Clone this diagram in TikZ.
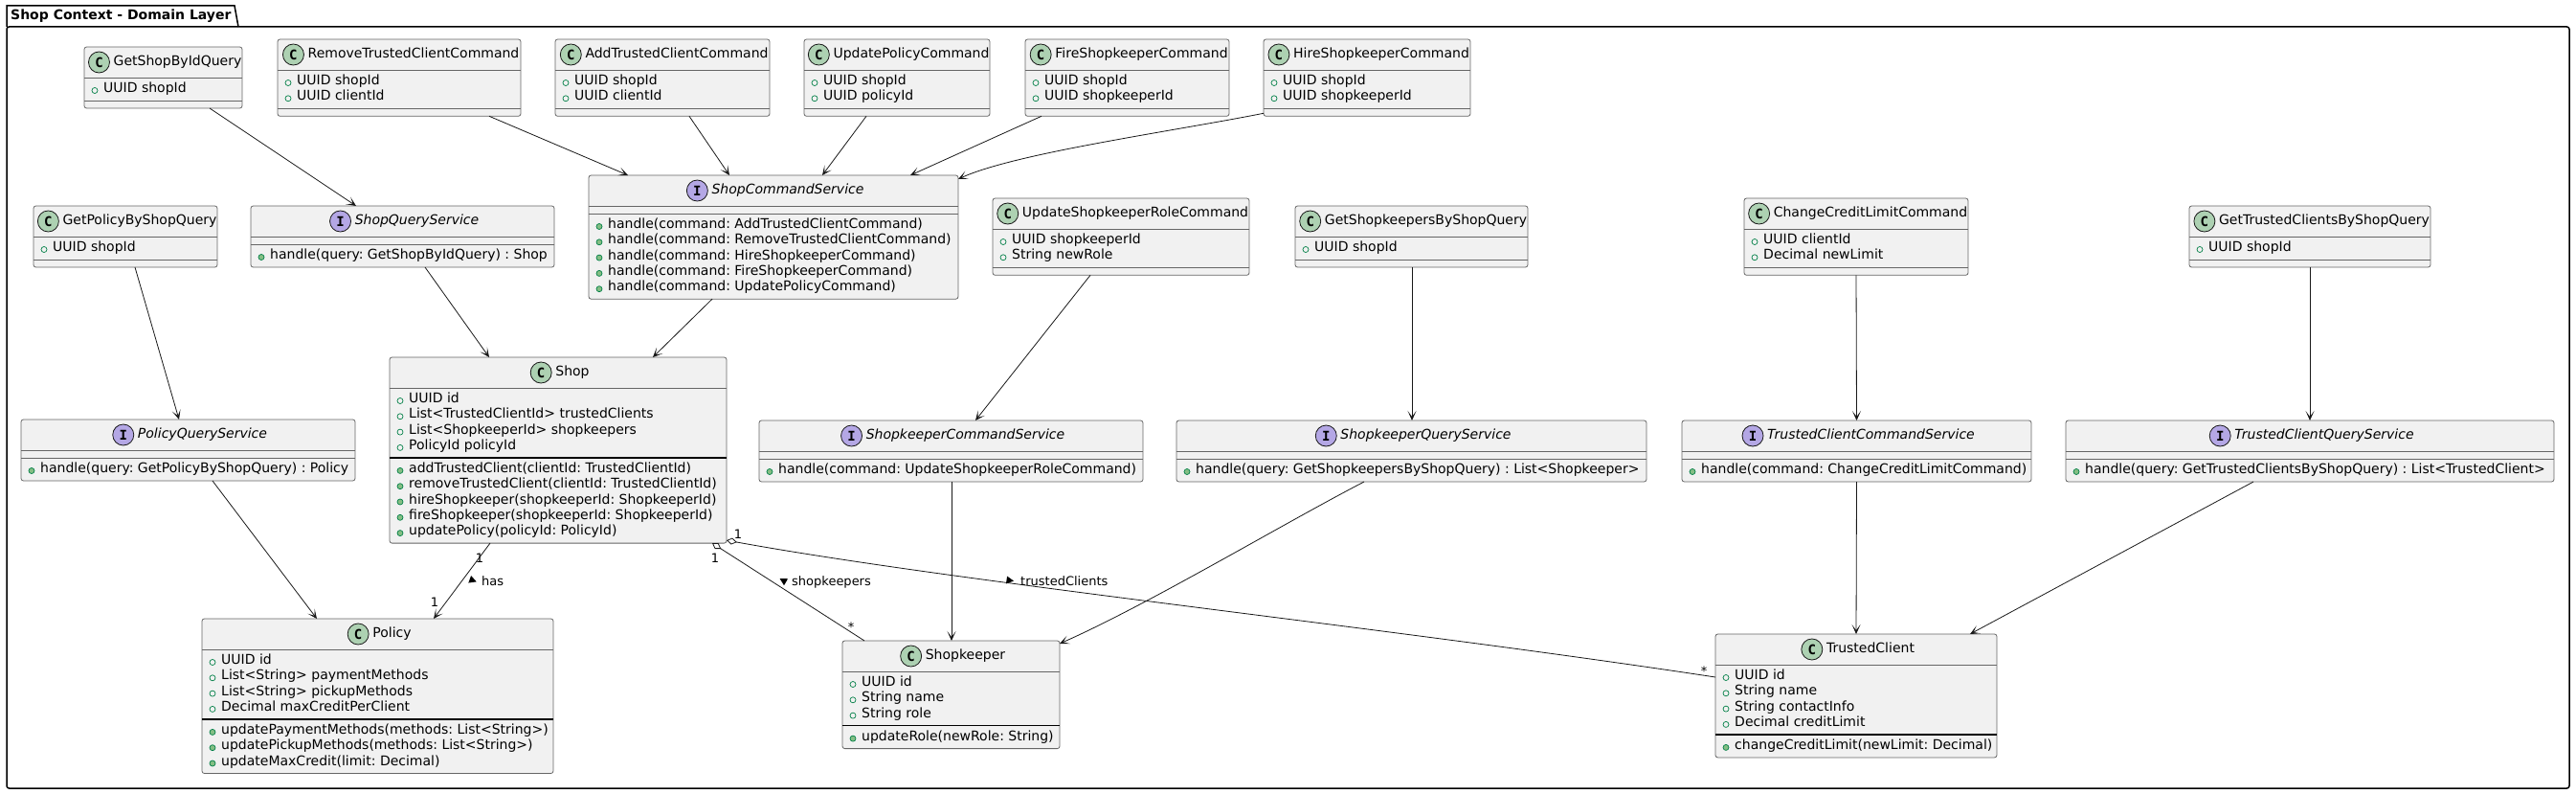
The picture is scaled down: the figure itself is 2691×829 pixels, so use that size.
\documentclass[tikz,border=0pt]{standalone}
\usepackage{fontspec}
\setmainfont{DejaVu Sans}
\setmonofont{DejaVu Sans Mono}
\usetikzlibrary{arrows.meta}
\frenchspacing

\definecolor{boxfill}{HTML}{F1F1F1}
\definecolor{iconclass}{HTML}{ADD1B2}
\definecolor{iconiface}{HTML}{B4A7E5}
\definecolor{fieldgreen}{HTML}{038048}
\definecolor{methodgreen}{HTML}{84BE84}

\tikzset{
  classbox/.style={draw=black!60, line width=0.8pt, fill=boxfill, rounded corners=2.5pt,
    anchor=north west, inner sep=0pt, outer sep=0pt},
  sepgray/.style={draw=black!60, line width=0.8pt},
  sepdark/.style={draw=black, line width=1.2pt},
  nameC/.style={inner sep=0pt, font=\fontsize{14pt}{16pt}\selectfont, text height=10pt, text depth=3pt},
  nameI/.style={nameC, font=\fontsize{14pt}{16pt}\selectfont\itshape},
  iconC/.style={circle, draw=black!90, line width=0.8pt, fill=iconclass, minimum size=22pt,
    inner sep=0pt, font=\fontsize{14pt}{14pt}\selectfont\ttfamily\bfseries},
  iconI/.style={iconC, fill=iconiface},
  member/.style={anchor=west, inner sep=0pt, font=\fontsize{14pt}{16pt}\selectfont,
    text height=10pt, text depth=3pt},
  fieldmark/.style={draw=fieldgreen, line width=0.7pt},
  methodmark/.style={draw=fieldgreen, fill=methodgreen, line width=0.7pt},
  arr/.style={draw=black!90, line width=0.8pt, -{Stealth[length=10pt, width=9pt, inset=6pt]}},
  agg/.style={draw=black!90, line width=0.8pt, {Diamond[open, length=11pt, width=7pt]}-},
  mult/.style={inner sep=0pt, font=\fontsize{13pt}{15pt}\selectfont},
  pkg/.style={draw=black, line width=1.5pt},
}

% class box: name, x, y, width, kind (C/I), title, fields, methods
\newcommand{\umlbox}[8]{%
  \gdef\na{0}\gdef\nm{0}%
  \def\umlA{#7}\def\umlM{#8}%
  \ifx\umlA\empty\else\foreach \row [count=\cnt] in {#7}{\xdef\na{\cnt}}\fi
  \ifx\umlM\empty\else\foreach \row [count=\cnt] in {#8}{\xdef\nm{\cnt}}\fi
  \pgfmathsetmacro\ha{\na==0 ? 8 : 24+(\na-1)*16.3}%
  \pgfmathsetmacro\hm{\nm==0 ? 8 : 24+(\nm-1)*16.3}%
  \pgfmathsetmacro\hb{32+\ha+\hm}%
  \pgfmathsetmacro\hs{32+\ha}%
  \node[classbox, minimum width=#4pt, minimum height=\hb pt] (#1) at (#2,#3) {};
  \node[name#5] (#1-name) at ([xshift=15pt, yshift=-16pt]#1.north) {#6};
  \node[icon#5] (#1-icon) at ([xshift=-15pt]#1-name.west) {#5};
  \draw[sepgray] ([yshift=-32pt]#1.north west) -- ([yshift=-32pt]#1.north east);
  \def\sepst{sepgray}\ifnum\na>0 \ifnum\nm>0 \def\sepst{sepdark}\fi\fi
  \draw[\sepst] ([yshift=-\hs pt]#1.north west) -- ([yshift=-\hs pt]#1.north east);
  \ifx\umlA\empty\else
  \foreach \row [count=\cnt] in {#7}{
    \pgfmathsetmacro\yy{44+(\cnt-1)*16.3}
    \pgfmathsetmacro\yd{\yy+1.5}
    \draw[fieldmark] ([xshift=11pt, yshift=-\yd pt]#1.north west) circle (3pt);
    \node[member] at ([xshift=20pt, yshift=-\yy pt]#1.north west) {\row};
  }\fi
  \ifx\umlM\empty\else
  \foreach \row [count=\cnt] in {#8}{
    \pgfmathsetmacro\yy{\hs+12+(\cnt-1)*16.3}
    \pgfmathsetmacro\yd{\yy+1.5}
    \draw[methodmark] ([xshift=11pt, yshift=-\yd pt]#1.north west) circle (3pt);
    \node[member] at ([xshift=20pt, yshift=-\yy pt]#1.north west) {\row};
  }\fi
}

\begin{document}
\begin{tikzpicture}[x=1pt, y=-1pt]
\useasboundingbox (0,0) rectangle (2691,829);

% package
\draw[pkg] (7,28) -- (7,6) -- (245,6) -- (249,28);
\draw[pkg, rounded corners=2.5pt] (7,28) rectangle (2684,823);
\node[anchor=west, inner sep=0pt, font=\fontsize{14pt}{16pt}\selectfont\bfseries] (pkgTitle) at (11,17)
    {Shop Context - Domain Layer};

% commands and queries
\umlbox{qShopById}{88}{49}{165}{C}{GetShopByIdQuery}{UUID shopId}{}
\umlbox{cRemoveClient}{290}{41}{254}{C}{RemoveTrustedClientCommand}{UUID shopId, UUID clientId}{}
\umlbox{cAddClient}{580}{41}{224}{C}{AddTrustedClientCommand}{UUID shopId, UUID clientId}{}
\umlbox{cUpdatePolicy}{840}{41}{194}{C}{UpdatePolicyCommand}{UUID shopId, UUID policyId}{}
\umlbox{cFire}{1071}{41}{213}{C}{FireShopkeeperCommand}{UUID shopId, UUID shopkeeperId}{}
\umlbox{cHire}{1320}{41}{216}{C}{HireShopkeeperCommand}{UUID shopId, UUID shopkeeperId}{}
\umlbox{qPolicy}{35}{215}{192}{C}{GetPolicyByShopQuery}{UUID shopId}{}
\umlbox{cUpdateRole}{1037}{207}{268}{C}{UpdateShopkeeperRoleCommand}{UUID shopkeeperId, String newRole}{}
\umlbox{qShopkeepers}{1353}{215}{243}{C}{GetShopkeepersByShopQuery}{UUID shopId}{}
\umlbox{cCredit}{1822}{207}{234}{C}{ChangeCreditLimitCommand}{UUID clientId, Decimal newLimit}{}
\umlbox{qClients}{2287}{215}{252}{C}{GetTrustedClientsByShopQuery}{UUID shopId}{}

% services
\umlbox{sShopQuery}{262}{215}{317}{I}{ShopQueryService}{}{handle(query: GetShopByIdQuery) : Shop}
\umlbox{sShopCmd}{615}{183}{386}{I}{ShopCommandService}{}{handle(command: AddTrustedClientCommand),
  handle(command: RemoveTrustedClientCommand), handle(command: HireShopkeeperCommand),
  handle(command: FireShopkeeperCommand), handle(command: UpdatePolicyCommand)}
\umlbox{sPolicyQuery}{22}{438}{349}{I}{PolicyQueryService}{}{handle(query: GetPolicyByShopQuery) : Policy}
\umlbox{sKeeperCmd}{793}{439}{401}{I}{ShopkeeperCommandService}{}{handle(command: UpdateShopkeeperRoleCommand)}
\umlbox{sKeeperQuery}{1229}{439}{491}{I}{ShopkeeperQueryService}{}{handle(query: GetShopkeepersByShopQuery) : List<Shopkeeper>}
\umlbox{sClientCmd}{1757}{439}{365}{I}{TrustedClientCommandService}{}{handle(command: ChangeCreditLimitCommand)}
\umlbox{sClientQuery}{2158}{439}{510}{I}{TrustedClientQueryService}{}{handle(query: GetTrustedClientsByShopQuery) : List<TrustedClient>}

% entities
\umlbox{Shop}{407}{373}{352}{C}{Shop}{UUID id, List<TrustedClientId> trustedClients,
  List<ShopkeeperId> shopkeepers, PolicyId policyId}{addTrustedClient(clientId: TrustedClientId),
  removeTrustedClient(clientId: TrustedClientId), hireShopkeeper(shopkeeperId: ShopkeeperId),
  fireShopkeeper(shopkeeperId: ShopkeeperId), updatePolicy(policyId: PolicyId)}
\umlbox{Policy}{211}{646}{367}{C}{Policy}{UUID id, List<String> paymentMethods,
  List<String> pickupMethods, Decimal maxCreditPerClient}{updatePaymentMethods(methods: List<String>),
  updatePickupMethods(methods: List<String>), updateMaxCredit(limit: Decimal)}
\umlbox{Shopkeeper}{880}{669}{227}{C}{Shopkeeper}{UUID id, String name, String role}{updateRole(newRole: String)}
\umlbox{TrustedClient}{1792}{662}{294}{C}{TrustedClient}{UUID id, String name, String contactInfo,
  Decimal creditLimit}{changeCreditLimit(newLimit: Decimal)}

% dependencies
\draw[arr] ([xshift=131pt]qShopById.south west) -- ([xshift=110pt]sShopQuery.north west);
\draw[arr] ([xshift=221pt]cRemoveClient.south west) -- ([xshift=41pt]sShopCmd.north west);
\draw[arr] ([xshift=140pt]cAddClient.south west) -- ([xshift=147pt]sShopCmd.north west);
\draw[arr] ([xshift=65pt]cUpdatePolicy.south west) -- ([xshift=244pt]sShopCmd.north west);
\draw[arr] ([xshift=17pt]cFire.south west) -- ([xshift=336pt]sShopCmd.north west);
\draw[arr] ([yshift=3pt]cHire.south west) .. controls (1220,138) and (1060,160) .. ([yshift=-4pt]sShopCmd.north east);
\draw[arr] ([xshift=182pt]sShopQuery.south west) -- ([xshift=104pt]Shop.north west);
\draw[arr] ([xshift=129pt]sShopCmd.south west) -- ([xshift=275pt]Shop.north west);
\draw[arr] ([xshift=106pt]qPolicy.south west) -- ([xshift=165pt]sPolicyQuery.north west);
\draw[arr] ([xshift=200pt]sPolicyQuery.south west) -- ([xshift=120pt]Policy.north west);
\draw[arr] ([xshift=102pt]cUpdateRole.south west) -- ([xshift=226pt]sKeeperCmd.north west);
\draw[arr] ([xshift=122pt]qShopkeepers.south west) -- ([xshift=246pt]sKeeperQuery.north west);
\draw[arr] (cCredit.south) -- (sClientCmd.north);
\draw[arr] (qClients.south) -- (sClientQuery.north);
\draw[arr] ([xshift=201pt]sKeeperCmd.south west) -- ([xshift=114pt]Shopkeeper.north west);
\draw[arr] ([xshift=196pt]sKeeperQuery.south west) .. controls (1340,547) and (1198,632) .. ([yshift=-3pt]Shopkeeper.north east);
\draw[arr] (sClientCmd.south) -- (TrustedClient.north);
\draw[arr] ([xshift=196pt]sClientQuery.south west) -- ([xshift=-28pt]TrustedClient.north east);

% associations
\draw[arr] ([xshift=105pt]Shop.south west) -- ([xshift=242pt]Policy.north west);
\draw[agg] ([xshift=337pt]Shop.south west) -- ([xshift=23pt]Shopkeeper.north west);
\draw[agg] ([yshift=3pt]Shop.south east) .. controls (1000,608) and (1450,655) .. ([yshift=-45pt]TrustedClient.north west);

% multiplicities and labels
\node[mult] (mHasShop) at (501,583) {1};
\node[mult] (mHasPolicy) at (454,629) {1};
\node[mult] (mKeeperShop) at (747,583) {1};
\node[mult] (mKeeperMany) at (889,655) {*};
\node[mult] (mClientShop) at (771,558) {1};
\node[mult] (mClientMany) at (1780,701) {*};
\fill[shift={(494,606)}, rotate=-20] (4,0) -- (-3.5,4) -- (-3.5,-4) -- cycle;
\node[mult, anchor=base west] (lHas) at (503,611) {has};
\fill[shift={(818,606)}, rotate=150] (4,0) -- (-3.5,4) -- (-3.5,-4) -- cycle;
\node[mult, anchor=base west] (lKeepers) at (827,611) {shopkeepers};
\fill[shift={(1055,606)}, rotate=-8] (4,0) -- (-3.5,4) -- (-3.5,-4) -- cycle;
\node[mult, anchor=base west] (lClients) at (1066,611) {trustedClients};
\end{tikzpicture}
\end{document}
